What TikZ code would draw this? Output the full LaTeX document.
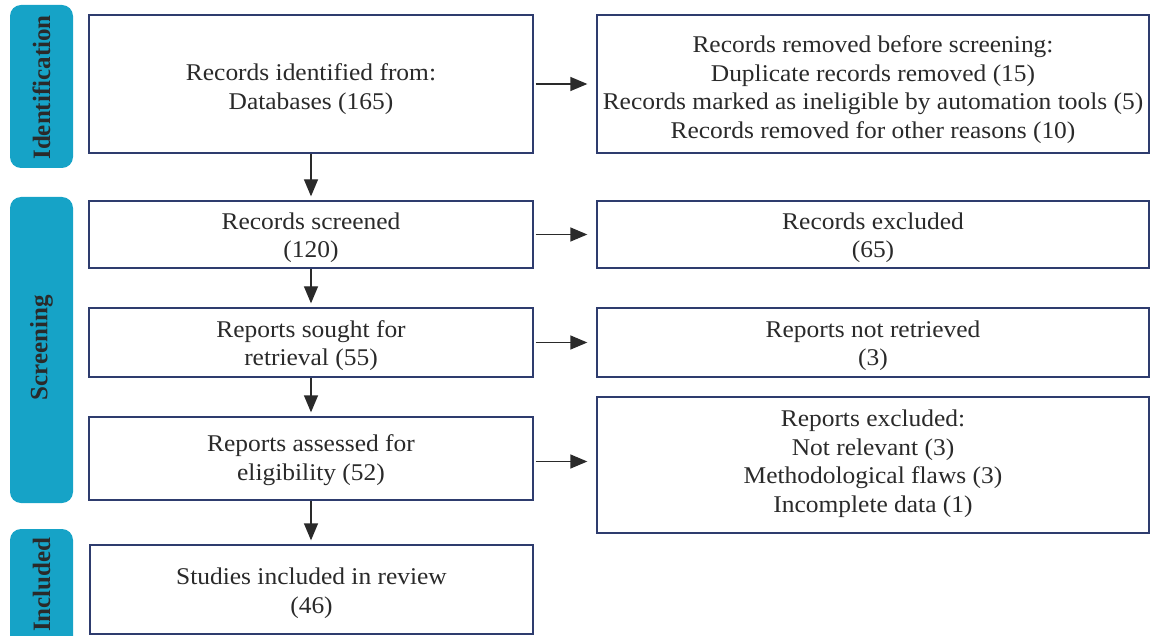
\documentclass[tikz,border=0pt]{standalone}
\usepackage{fontspec}
\setmainfont{Liberation Serif}
\newfontfamily\boxfont[FakeStretch=1.06]{Liberation Serif}
\usetikzlibrary{arrows.meta}
\definecolor{sidebar}{HTML}{16A3C7}
\definecolor{boxline}{HTML}{2E3C6E}
\definecolor{txt}{HTML}{2A2A2A}
\begin{document}
\begin{tikzpicture}[x=1pt,y=-1pt,
  flowbox/.style={draw=boxline,line width=1.3pt,fill=white,inner sep=0pt},
  flowtext/.style={inner sep=0pt,text=txt,align=center,
    font=\boxfont\fontsize{24}{28.5}\selectfont},
  sidebox/.style={fill=sidebar,rounded corners=11pt},
  sidelabel/.style={rotate=90,text=txt,font=\fontsize{25}{26}\selectfont\bfseries},
  flowarrow/.style={draw=txt,line width=1.3pt,-{Triangle[length=17pt,width=14pt]}}]
\useasboundingbox (0,0) rectangle (1156,636);
% sidebars
\begin{scope}
\clip (0,0) rectangle (1156,636);
\fill[sidebox] (10,5) rectangle (73,168);
\fill[sidebox] (10,197) rectangle (73,503);
\fill[sidebox] (10,529) rectangle (73,660);
\end{scope}
\node[sidelabel] (lid) at (41.5,87.5) {Identification};
\node[sidelabel] (lsc) at (41.5,347.5) {Screening};
\node[sidelabel] (lin) at (41.5,584.5) {Included};
% left boxes
\node[flowbox,minimum width=444pt,minimum height=138pt] (b1) at (311,84) {};
\node[flowbox,minimum width=444pt,minimum height=67pt] (b2) at (311,234.5) {};
\node[flowbox,minimum width=444pt,minimum height=69pt] (b3) at (311,342.5) {};
\node[flowbox,minimum width=444pt,minimum height=83pt] (b4) at (311,458.5) {};
\node[flowbox,minimum width=443pt,minimum height=89pt] (b5) at (311.5,589.5) {};
% right boxes
\node[flowbox,minimum width=552pt,minimum height=138pt] (r1) at (873,84) {};
\node[flowbox,minimum width=552pt,minimum height=67pt] (r2) at (873,234.5) {};
\node[flowbox,minimum width=552pt,minimum height=69pt] (r3) at (873,342.5) {};
\node[flowbox,minimum width=552pt,minimum height=136pt] (r4) at (873,465) {};
% texts
\node[flowtext] (t1) at (311,89) {Records identified from:\\Databases (165)};
\node[flowtext] (t2) at (311,237.5) {Records screened\\(120)};
\node[flowtext] (t3) at (311,345.5) {Reports sought for\\retrieval (55)};
\node[flowtext] (t4) at (311,460) {Reports assessed for\\eligibility (52)};
\node[flowtext] (t5) at (311.5,593) {Studies included in review\\(46)};
\node[flowtext] (u1) at (873,89.5) {Records removed before screening:\\Duplicate records removed (15)\\Records marked as ineligible by automation tools (5)\\Records removed for other reasons (10)};
\node[flowtext] (u2) at (873,237.5) {Records excluded\\(65)};
\node[flowtext] (u3) at (873,345.5) {Reports not retrieved\\(3)};
\node[flowtext] (u4) at (873,463.5) {Reports excluded:\\Not relevant (3)\\Methodological flaws (3)\\Incomplete data (1)};
% vertical arrows
\draw[flowarrow] (b1.south) -- ([yshift=4pt]b2.north);
\draw[flowarrow] (b2.south) -- ([yshift=4pt]b3.north);
\draw[flowarrow] (b3.south) -- ([yshift=4pt]b4.north);
\coordinate (a5e) at ([yshift=4pt]b4.south |- b5.north);
\draw[flowarrow] (b4.south) -- (a5e);
% horizontal arrows
\draw[flowarrow] ([xshift=2pt]b1.east) -- ([xshift=-9pt]r1.west);
\draw[flowarrow] ([xshift=2pt]b2.east) -- ([xshift=-9pt]r2.west);
\draw[flowarrow] ([xshift=2pt]b3.east) -- ([xshift=-9pt]r3.west);
\coordinate (a4s) at ([xshift=2pt,yshift=-3pt]b4.east);
\coordinate (a4e) at ([xshift=-9pt]a4s -| r4.west);
\draw[flowarrow] (a4s) -- (a4e);
\end{tikzpicture}
\end{document}
